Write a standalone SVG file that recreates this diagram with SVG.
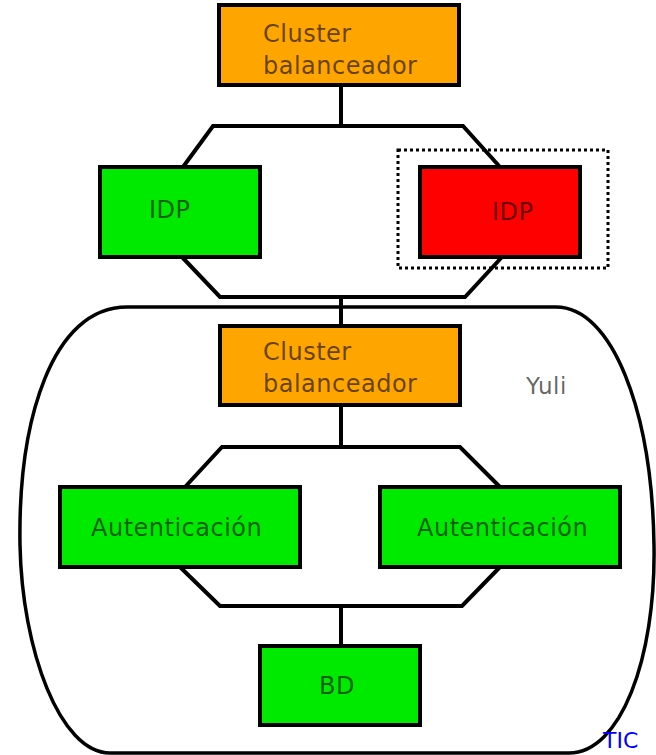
<svg xmlns="http://www.w3.org/2000/svg" width="656" height="755" viewBox="0 0 656 755">
<style>
.box{stroke:#000;stroke-width:4}
.orange{fill:#ffa500}
.green{fill:#00ea00}
.red{fill:#ff0000}
.lbl{font-family:"DejaVu Sans",sans-serif;font-size:24px;letter-spacing:0.5px;fill:#000;fill-opacity:0.62}
.line{fill:none;stroke:#000;stroke-width:4;stroke-linejoin:miter}
</style>
<rect width="656" height="755" fill="#fff"/>
<g id="yuli">
<path d="M127,307 L556,307 C612,307 652,410 654,545 C656,660 620,753 569,753 L110,753 C60,753 22,650 20,545 C18,420 52,307 127,307 Z" fill="none" stroke="#000" stroke-width="3.5"/>
<text class="lbl" x="526" y="394" style="font-size:23px">Yuli</text>
</g>
<g id="connectors">
<path class="line" d="M341,85 L341,126"/>
<path class="line" d="M183,167 L213,126 L463,126 L500,167"/>
<path class="line" d="M182,257 L220,297 L465,297 L502,257"/>
<path class="line" d="M341,297 L341,326"/>
<path class="line" d="M341,405 L341,447"/>
<path class="line" d="M185,487 L222,447 L460,447 L500,487"/>
<path class="line" d="M180,567 L220,606 L462,606 L500,567"/>
<path class="line" d="M341,606 L341,646"/>
</g>
<g id="cluster1">
<rect class="box orange" x="219" y="5" width="240" height="80"/>
<text class="lbl" x="263" y="42">Cluster</text>
<text class="lbl" x="263" y="74">balanceador</text>
</g>
<g id="idp1">
<rect class="box green" x="100" y="167" width="160" height="90"/>
<text class="lbl" x="149" y="218">IDP</text>
</g>
<g id="idp2">
<rect x="398" y="150" width="210" height="118" fill="none" stroke="#000" stroke-width="3" stroke-dasharray="3,3"/>
<rect class="box red" x="420" y="167" width="160" height="90"/>
<text class="lbl" x="492" y="220">IDP</text>
</g>
<g id="cluster2">
<rect class="box orange" x="220" y="326" width="240" height="79"/>
<text class="lbl" x="263" y="360">Cluster</text>
<text class="lbl" x="263" y="392">balanceador</text>
</g>
<g id="auth1">
<rect class="box green" x="60" y="487" width="240" height="80"/>
<text class="lbl" x="91" y="536">Autenticación</text>
</g>
<g id="auth2">
<rect class="box green" x="380" y="487" width="240" height="80"/>
<text class="lbl" x="417" y="536">Autenticación</text>
</g>
<g id="bd">
<rect class="box green" x="260" y="646" width="160" height="79"/>
<text class="lbl" x="319" y="694">BD</text>
</g>
<text x="603" y="748" font-family="DejaVu Sans, sans-serif" font-size="22" fill="#0000ff">TIC</text>
</svg>
